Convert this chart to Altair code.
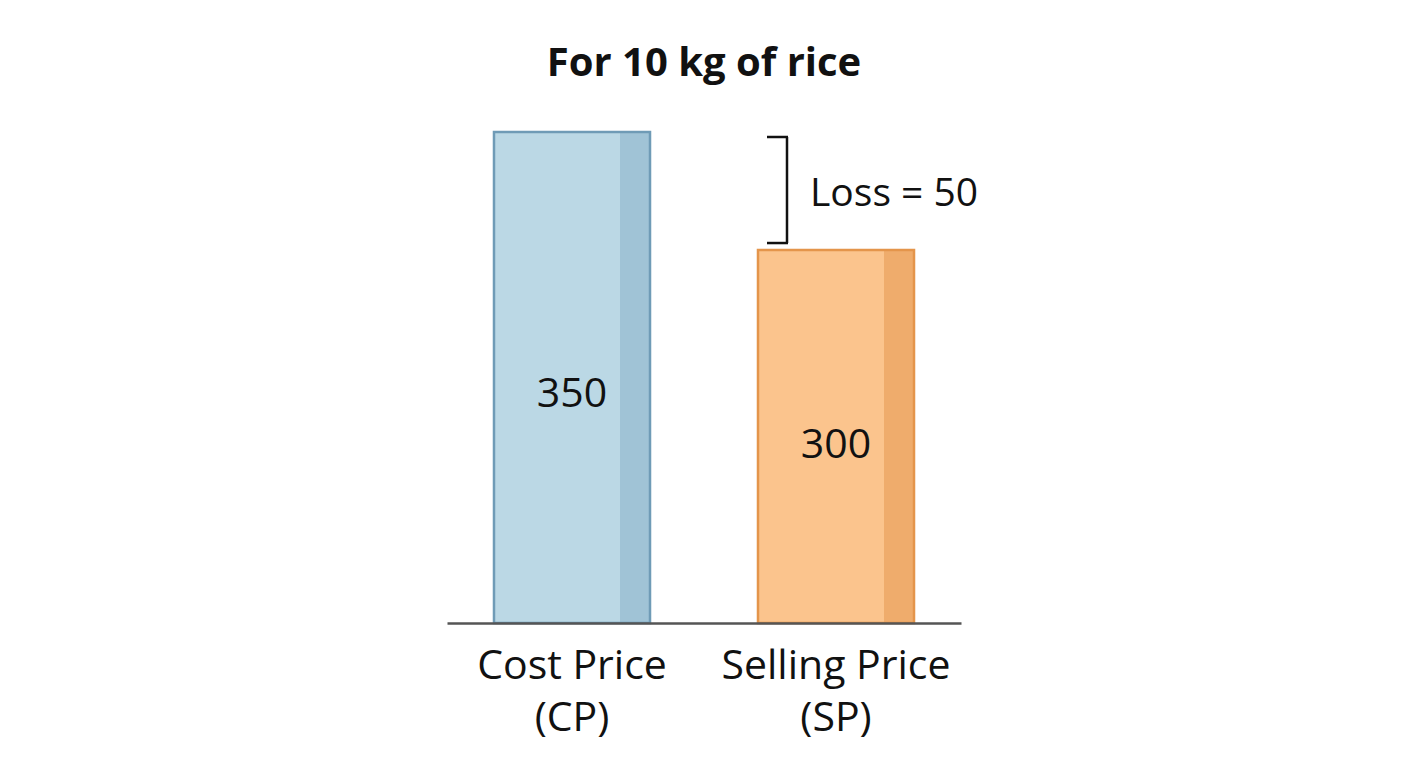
import altair as alt
import pandas as pd

# ---- data ----
categories = ["Cost Price\n(CP)", "Selling Price\n(SP)"]
short = ["CP", "SP"]
values = [350, 300]
title_text = "For 10 kg of rice"

fill_colors = ["#bbd8e5", "#fbc48d"]
strip_colors = ["#a0c3d6", "#efac6c"]
stroke_colors = ["#6f9bb6", "#e4954b"]

df = pd.DataFrame({"cat": categories, "short": short, "value": values})
loss_df = pd.DataFrame({"cat": [categories[1]], "cp": [values[0]], "sp": [values[1]]})

Y_MIN = 142
y_scale = alt.Scale(domain=[Y_MIN, max(values)], nice=False, zero=False)
x_enc = alt.X(
    "cat:N",
    sort=categories,
    scale=alt.Scale(paddingInner=0.409, paddingOuter=0.178),
    axis=alt.Axis(
        title=None,
        ticks=False,
        labelAngle=0,
        labelExpr="split(datum.label, '\\n')",
        labelFont="Open Sans",
        labelFontSize=41,
        labelColor="#111111",
        labelLineHeight=52,
        labelPadding=23,
        labelLimit=0,
        domainColor="#555555",
        domainWidth=2.5,
        zindex=1,
    ),
)

base = alt.Chart(df)

main = base.mark_bar(strokeWidth=0).encode(
    x=x_enc,
    y=alt.Y("value:Q", scale=y_scale, axis=None),
    y2=alt.datum(Y_MIN),
    fill=alt.Fill("cat:N", scale=alt.Scale(domain=categories, range=fill_colors), legend=None),
)

strip = base.mark_bar(width=30, xOffset=63, strokeWidth=0).encode(
    x=alt.X("cat:N", sort=categories),
    y=alt.Y("value:Q", scale=y_scale),
    y2=alt.datum(Y_MIN),
    fill=alt.Fill("cat:N", scale=alt.Scale(domain=categories, range=strip_colors), legend=None),
)

outline = base.mark_bar(fillOpacity=0, strokeWidth=2.5).encode(
    x=alt.X("cat:N", sort=categories),
    y=alt.Y("value:Q", scale=y_scale),
    y2=alt.datum(Y_MIN),
    stroke=alt.Stroke("cat:N", scale=alt.Scale(domain=categories, range=stroke_colors), legend=None),
)

labels = base.transform_calculate(
    pos=f"datum.value - 0.568 * (datum.value - {Y_MIN})"
).mark_text(font="Open Sans", fontSize=41, color="#111111", dy=-16).encode(
    x=alt.X("cat:N", sort=categories),
    y=alt.Y("pos:Q", scale=y_scale),
    text=alt.Text("value:Q"),
)

lc = alt.Chart(loss_df)
bracket_v = lc.mark_rule(color="#111111", strokeWidth=2.5, xOffset=-49, yOffset=5, y2Offset=-7).encode(
    x=alt.X("cat:N", sort=categories),
    y=alt.Y("cp:Q", scale=y_scale),
    y2="sp:Q",
)
bracket_top = lc.mark_rule(color="#111111", strokeWidth=2.5, xOffset=-69, x2Offset=-48, yOffset=5).encode(
    x=alt.X("cat:N", sort=categories),
    x2="cat:N",
    y=alt.Y("cp:Q", scale=y_scale),
)
bracket_bot = lc.mark_rule(color="#111111", strokeWidth=2.5, xOffset=-69, x2Offset=-48, yOffset=-7).encode(
    x=alt.X("cat:N", sort=categories),
    x2="cat:N",
    y=alt.Y("sp:Q", scale=y_scale),
)
loss_text = lc.transform_calculate(
    mid="(datum.cp + datum.sp) / 2",
    label="'Loss = ' + (datum.cp - datum.sp)",
).mark_text(font="Open Sans", fontSize=39, color="#111111", align="left", dx=-26, dy=3).encode(
    x=alt.X("cat:N", sort=categories),
    y=alt.Y("mid:Q", scale=y_scale),
    text="label:N",
)

chart = alt.layer(
    main, strip, outline, labels, bracket_v, bracket_top, bracket_bot, loss_text
).resolve_scale(
    fill="independent", stroke="independent"
).properties(
    width=514,
    height=491,
    background="white",
    padding={"left": 439, "right": 439, "top": 124, "bottom": 137},
    autosize=alt.AutoSizeParams(type="none"),
    title=alt.TitleParams(
        title_text,
        font="Open Sans",
        fontSize=40,
        fontWeight="bold",
        color="#111111",
        anchor="middle",
        offset=47,
    ),
).configure_view(strokeWidth=0, stroke="transparent")

chart.save("out.html", embed_options={"renderer": "svg", "actions": False})
